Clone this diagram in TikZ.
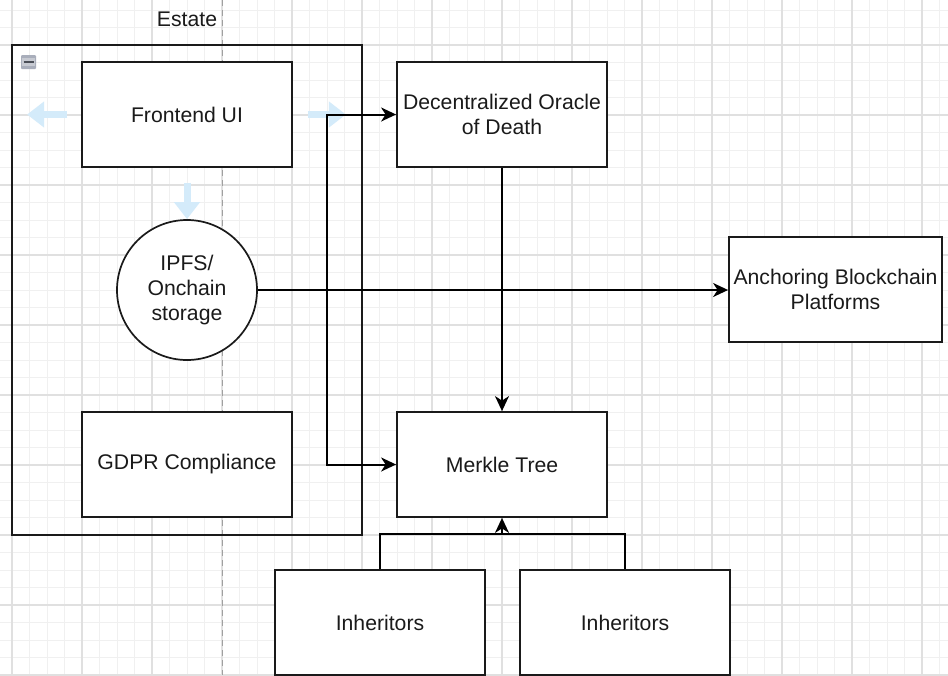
\documentclass[tikz,border=0pt]{standalone}
\usepackage{fontspec}
\setmainfont{Liberation Sans}
\usetikzlibrary{arrows.meta}

\definecolor{gridminor}{HTML}{F0F0F0}
\definecolor{gridmajor}{HTML}{E0E0E0}
\definecolor{pagebreak}{HTML}{A0A0A0}
\definecolor{hoverblue}{HTML}{D4EBFA}
\definecolor{ink}{HTML}{1A1A1A}
\definecolor{iconfill}{HTML}{A9AEBB}
\definecolor{iconmark}{HTML}{4A4E57}

\newcommand\diagfont{\fontsize{21.2}{24.8}\selectfont}

\tikzset{
  drawiotip/.tip={Stealth[length=15pt,width=14pt,inset=4.5pt]},
  box/.style={draw=ink, line width=1.8pt, fill=white, inner sep=0pt,
    minimum width=210pt, minimum height=105pt, align=center,
    font=\diagfont, text=ink},
  roundbox/.style={draw=ink, line width=1.7pt, fill=white, circle,
    inner sep=0pt, minimum size=140pt, align=center, font=\diagfont, text=ink},
  container/.style={draw=ink, line width=2pt, inner sep=0pt,
    minimum width=350pt, minimum height=490pt},
  title/.style={font=\diagfont, text=ink, inner sep=0pt},
  wire/.style={draw=black, line width=2pt},
  link/.style={wire, -drawiotip},
  twoway/.style={wire, drawiotip-drawiotip},
  hover/.style={draw=hoverblue, line width=7pt,
    -{Triangle[length=17pt,width=25pt]}},
  minorline/.style={draw=gridminor, line width=0.9pt},
  majorline/.style={draw=gridmajor, line width=1.1pt},
}

\begin{document}
\begin{tikzpicture}[x=1pt,y=-1pt]
  \useasboundingbox (0,0) rectangle (948,675);
  \clip (0,0) rectangle (948,675);
  \fill[white] (0,0) rectangle (948,675);

  % background grid
  \foreach \k in {0,...,55}
    \draw[minorline] ({-5.5+17.5*\k},0) -- ({-5.5+17.5*\k},675);
  \foreach \k in {0,...,39}
    \draw[minorline] (0,{-7.5+17.5*\k}) -- (948,{-7.5+17.5*\k});
  \foreach \k in {0,...,13}
    \draw[majorline] ({12+70*\k},0) -- ({12+70*\k},675);
  \foreach \k in {0,...,9}
    \draw[majorline] (0,{45+70*\k}) -- (948,{45+70*\k});

  % page break
  \draw[pagebreak, line width=0.9pt, dash pattern=on 6pt off 4pt] (222,0) -- (222,675);

  % Estate container
  \node[container] (estate) at (187,290) {};
  \node[title] (estatetitle) at (187,19) {Estate};
  \fill[iconfill, rounded corners=1pt] (21,55) rectangle (36,69);
  \fill[white, opacity=0.35] (22,58) rectangle (35,66);
  \draw[iconmark, line width=2pt] (23.5,62) -- (33.5,62);

  % nodes
  \node[box] (front)  at (187,114.5) {Frontend UI};
  \node[roundbox] (ipfs) at (187,290) {IPFS/\\Onchain\\storage};
  \node[box] (gdpr)   at (187,464.5) {GDPR Compliance};
  \node[box] (oracle) at (502,114.5) {Decentralized Oracle\\of Death};
  \node[box] (merkle) at (502,464.5) {Merkle Tree};
  \node[box, minimum width=213pt] (anchor) at (835.5,289.5) {Anchoring Blockchain\\Platforms};
  \node[box] (inh1) at (380,622.5) {Inheritors};
  \node[box] (inh2) at (625,622.5) {Inheritors};

  % hover hints around the selected shape
  \draw[hover] ([xshift=-14pt]front.west) -- ([xshift=-54pt]front.west);
  \draw[hover] ([xshift=15pt]front.east) -- ([xshift=53pt]front.east);
  \draw[hover] ([yshift=-15pt]front.south) -- (ipfs.north);

  % connectors
  \draw[twoway] (oracle.west) -- ++(-69,0) |- (merkle.west);
  \draw[link] (oracle.south) -- (merkle.north);
  \draw[link] (ipfs.east) -- (ipfs.east -| anchor.west);
  \draw[wire] (inh1.north) -- ++(0,-35) -| (inh2.north);
  \coordinate (join) at ([yshift=35pt]merkle.south |- inh1.north);
  \draw[link] (join) -- (merkle.south);
\end{tikzpicture}
\end{document}
